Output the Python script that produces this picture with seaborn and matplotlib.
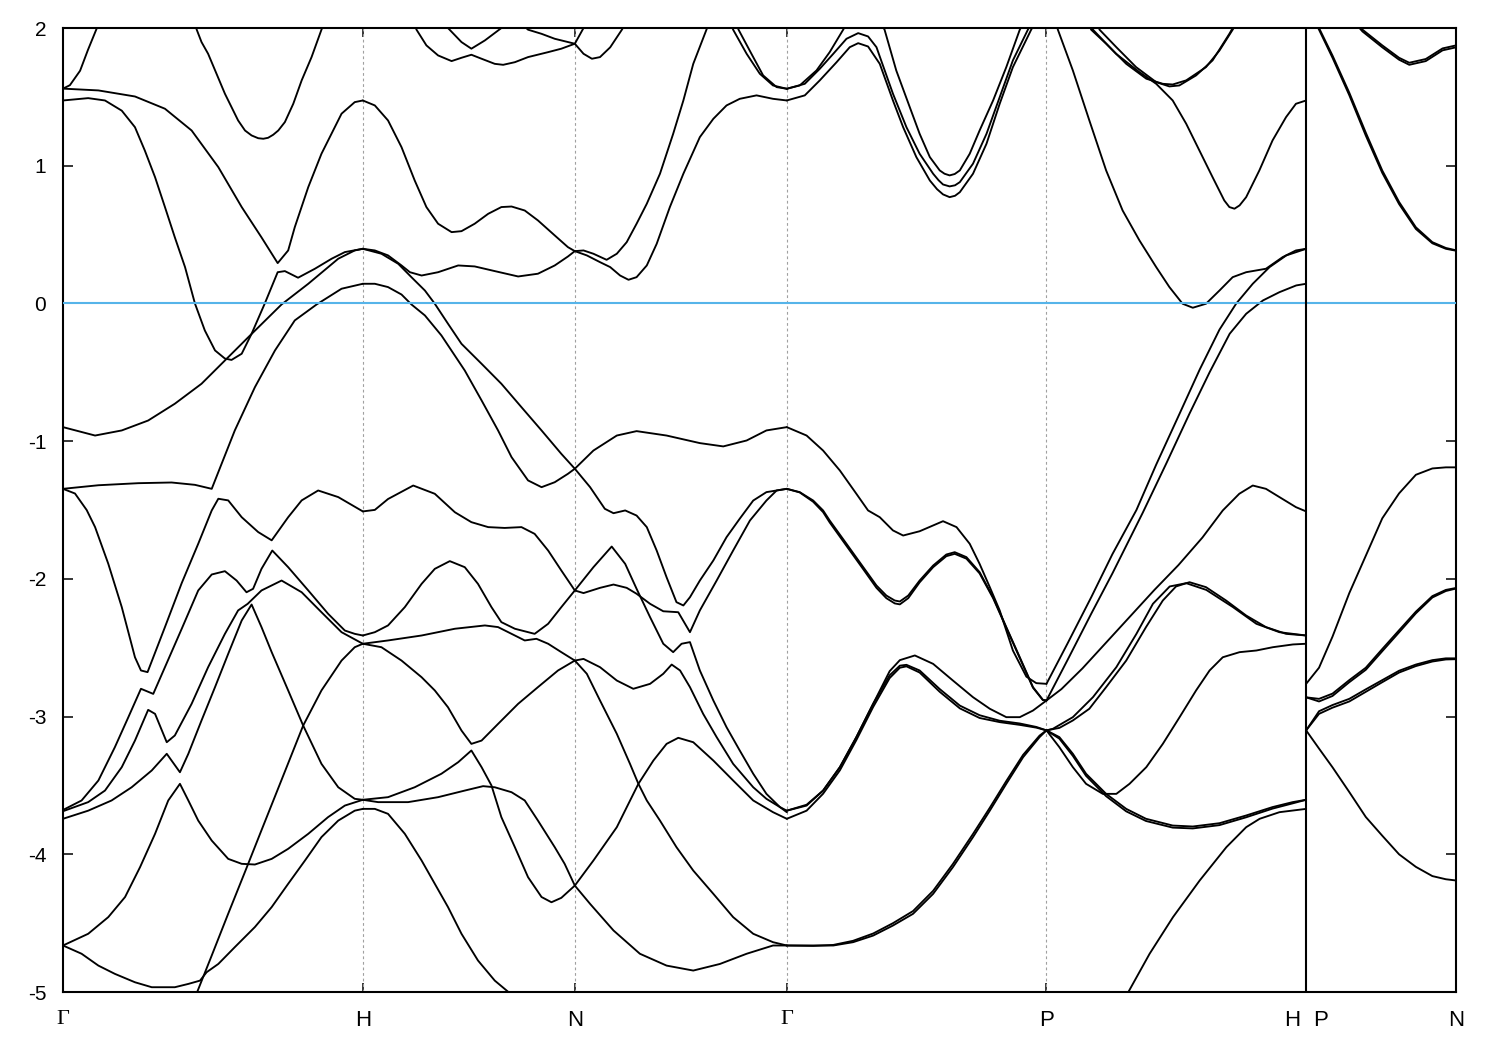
import matplotlib
matplotlib.use("Agg")
import matplotlib.pyplot as plt
import matplotlib.transforms as mtrans
import numpy as np
import pandas as pd
import seaborn as sns

# ---------------- high-symmetry path (units of 2*pi/a) ----------------
kpt_pos = [0.0, 1.0, 1.707, 2.414, 3.280, 4.146, 4.646]
kpt_labels = ["Γ", "H", "N", "Γ", "P", "", "N"]
dashed_at = [1.0, 1.707, 2.414, 3.280]
break_at = 4.146
y_ticks = [-5, -4, -3, -2, -1, 0, 1, 2]

# ---------------- bands, Gamma - H ----------------
gh1_k = [0.0, 0.023, 0.057, 0.083, 0.113, 0.125]
gh1_e = [1.56, 1.585, 1.69, 1.84, 2.0, 2.08]
gh2_k = [0.440, 0.446, 0.462, 0.484, 0.512, 0.540, 0.562, 0.584, 0.607, 0.629, 0.651, 0.668, 0.684, 0.701, 0.718,
         0.740, 0.768, 0.796, 0.829, 0.862, 0.870]
gh2_e = [2.03, 1.988, 1.898, 1.813, 1.668, 1.523, 1.426, 1.329, 1.256, 1.22, 1.20, 1.196, 1.203, 1.225, 1.256,
         1.317, 1.45, 1.62, 1.789, 1.988, 2.03]
gh3_k = [0.0, 0.118, 0.240, 0.340, 0.429, 0.518, 0.596, 0.662, 0.716, 0.751, 0.773, 0.818, 0.862, 0.929, 0.973, 1.0]
gh3_e = [1.56, 1.547, 1.503, 1.414, 1.256, 0.99, 0.70, 0.48, 0.293, 0.385, 0.554, 0.845, 1.087, 1.378, 1.462, 1.474]
gh4_k = [0.0, 0.084, 0.140, 0.196, 0.240, 0.273, 0.307, 0.340, 0.373, 0.407, 0.440, 0.473, 0.507, 0.540, 0.562,
         0.596, 0.629, 0.673, 0.716, 0.740, 0.784, 0.840, 0.896, 0.940, 1.0]
gh4_e = [1.474, 1.491, 1.474, 1.40, 1.28, 1.11, 0.917, 0.70, 0.48, 0.264, 0.0, -0.196, -0.341, -0.40, -0.41,
         -0.365, -0.22, 0.0, 0.227, 0.235, 0.187, 0.252, 0.325, 0.373, 0.397]
gh5_k = [0.0, 0.107, 0.196, 0.284, 0.373, 0.462, 0.540, 0.618, 0.729, 0.818, 0.918, 0.973, 1.0]
gh5_e = [-0.898, -0.959, -0.922, -0.85, -0.728, -0.583, -0.414, -0.245, -0.007, 0.143, 0.325, 0.385, 0.397]
gh6_k = [0.0, 0.118, 0.251, 0.362, 0.440, 0.496, 0.529, 0.573, 0.640, 0.707, 0.773, 0.846, 0.929, 1.0]
gh6_e = [-1.346, -1.32, -1.305, -1.30, -1.317, -1.346, -1.164, -0.922, -0.608, -0.341, -0.123, -0.007, 0.107, 0.143]
gh7_k = [0.0, 0.040, 0.079, 0.107, 0.151, 0.196, 0.240, 0.260, 0.282, 0.340, 0.396, 0.451, 0.496, 0.518, 0.551,
         0.596, 0.651, 0.696, 0.751, 0.796, 0.851, 0.918, 1.0]
gh7_e = [-1.346, -1.38, -1.50, -1.624, -1.89, -2.205, -2.569, -2.665, -2.677, -2.35, -2.03, -1.745, -1.503, -1.418,
         -1.43, -1.552, -1.66, -1.72, -1.552, -1.43, -1.358, -1.406, -1.51]
gh8_k = [0.0, 0.062, 0.118, 0.173, 0.218, 0.260, 0.301, 0.340, 0.396, 0.451, 0.496, 0.540, 0.579, 0.612, 0.634,
         0.662, 0.698, 0.751, 0.818, 0.884, 0.940, 0.973, 1.0]
gh8_e = [-3.678, -3.609, -3.464, -3.222, -3.004, -2.798, -2.835, -2.641, -2.362, -2.084, -1.968, -1.944, -2.012,
         -2.097, -2.072, -1.927, -1.794, -1.915, -2.084, -2.253, -2.375, -2.399, -2.411]
gh9_k = [0.0, 0.084, 0.140, 0.196, 0.240, 0.284, 0.307, 0.346, 0.373, 0.429, 0.484, 0.540, 0.584, 0.616, 0.662,
         0.729, 0.796, 0.862, 0.929, 1.0]
gh9_e = [-3.687, -3.621, -3.537, -3.367, -3.174, -2.951, -2.98, -3.186, -3.137, -2.907, -2.641, -2.399, -2.229,
         -2.181, -2.084, -2.012, -2.097, -2.242, -2.387, -2.471]
gh10_k = [0.0, 0.084, 0.162, 0.229, 0.296, 0.346, 0.390, 0.418, 0.462, 0.507, 0.551, 0.596, 0.629, 0.662, 0.696,
          0.751, 0.801, 0.862, 0.918, 0.973, 1.0]
gh10_e = [-3.742, -3.683, -3.609, -3.513, -3.391, -3.27, -3.404, -3.27, -3.028, -2.786, -2.544, -2.302, -2.186,
          -2.35, -2.532, -2.81, -3.065, -3.343, -3.513, -3.597, -3.604]
gh11_k = [0.0, 0.084, 0.151, 0.207, 0.257, 0.307, 0.351, 0.390, 0.418, 0.451, 0.496, 0.551, 0.596, 0.640, 0.696,
          0.751, 0.818, 0.884, 0.940, 1.0]
gh11_e = [-4.662, -4.577, -4.456, -4.31, -4.093, -3.851, -3.609, -3.488, -3.609, -3.755, -3.9, -4.033, -4.069,
          -4.074, -4.033, -3.96, -3.851, -3.73, -3.646, -3.604]
gh12_k = [0.0, 0.062, 0.118, 0.173, 0.240, 0.296, 0.373, 0.418, 0.457, 0.479, 0.518, 0.573, 0.640, 0.696, 0.751,
          0.807, 0.862, 0.918, 0.973, 1.0]
gh12_e = [-4.662, -4.722, -4.808, -4.868, -4.929, -4.965, -4.965, -4.941, -4.917, -4.856, -4.796, -4.674, -4.528,
          -4.383, -4.214, -4.045, -3.875, -3.755, -3.683, -3.67]
gh13_k = [0.440, 0.446, 0.496, 0.551, 0.607, 0.662, 0.729, 0.801, 0.862, 0.929, 0.973, 1.0]
gh13_e = [-5.04, -5.008, -4.735, -4.431, -4.127, -3.825, -3.459, -3.065, -2.81, -2.593, -2.496, -2.471]

# ---------------- bands, H - N ----------------
hn1_k = [1.170, 1.179, 1.212, 1.251, 1.296, 1.329, 1.362, 1.396, 1.440, 1.468, 1.507, 1.551, 1.618, 1.662, 1.707,
         1.736, 1.742]
hn1_e = [2.04, 1.988, 1.874, 1.801, 1.76, 1.784, 1.806, 1.777, 1.74, 1.733, 1.752, 1.789, 1.825, 1.85, 1.886, 2.0, 2.03]
hn2_k = [1.275, 1.284, 1.329, 1.362, 1.407, 1.462, 1.470]
hn2_e = [2.04, 2.0, 1.898, 1.85, 1.91, 2.0, 2.03]
hn3_k = [1.530, 1.551, 1.596, 1.640, 1.707, 1.736, 1.764, 1.791, 1.825, 1.864, 1.875]
hn3_e = [2.03, 1.988, 1.958, 1.922, 1.886, 1.813, 1.777, 1.789, 1.86, 1.988, 2.03]
hn4_k = [1.0, 1.040, 1.084, 1.129, 1.173, 1.212, 1.251, 1.296, 1.329, 1.373, 1.418, 1.462, 1.496, 1.540, 1.584,
         1.640, 1.684, 1.707]
hn4_e = [1.474, 1.438, 1.329, 1.135, 0.893, 0.70, 0.579, 0.518, 0.525, 0.579, 0.651, 0.70, 0.704, 0.675, 0.603,
         0.494, 0.409, 0.38]
hn5_k = [1.0, 1.040, 1.084, 1.129, 1.157, 1.196, 1.251, 1.318, 1.373, 1.440, 1.518, 1.584, 1.640, 1.684, 1.707]
hn5_e = [0.397, 0.385, 0.349, 0.276, 0.227, 0.203, 0.227, 0.276, 0.269, 0.235, 0.196, 0.216, 0.276, 0.341, 0.38]
hn6_k = [1.0, 1.062, 1.118, 1.162, 1.207, 1.240, 1.284, 1.329, 1.396, 1.462, 1.529, 1.596, 1.662, 1.707]
hn6_e = [0.397, 0.361, 0.288, 0.191, 0.094, -0.002, -0.147, -0.293, -0.438, -0.583, -0.753, -0.922, -1.092, -1.20]
hn7_k = [1.0, 1.040, 1.084, 1.129, 1.162, 1.207, 1.262, 1.340, 1.396, 1.451, 1.496, 1.551, 1.596, 1.640, 1.684, 1.707]
hn7_e = [0.143, 0.143, 0.119, 0.065, -0.007, -0.087, -0.232, -0.487, -0.704, -0.922, -1.116, -1.285, -1.334,
         -1.298, -1.237, -1.20]
hn8_k = [1.0, 1.040, 1.084, 1.168, 1.240, 1.307, 1.362, 1.418, 1.473, 1.529, 1.573, 1.618, 1.662, 1.707]
hn8_e = [-1.51, -1.499, -1.42, -1.322, -1.382, -1.516, -1.588, -1.624, -1.63, -1.624, -1.673, -1.794, -1.939, -2.084]
hn9_k = [1.0, 1.040, 1.084, 1.140, 1.196, 1.240, 1.290, 1.340, 1.384, 1.429, 1.462, 1.507, 1.573, 1.618, 1.662, 1.707]
hn9_e = [-2.411, -2.387, -2.338, -2.205, -2.036, -1.927, -1.871, -1.915, -2.036, -2.205, -2.314, -2.362, -2.399,
         -2.326, -2.205, -2.084]
hn10_k = [1.0, 1.084, 1.196, 1.307, 1.407, 1.451, 1.496, 1.540, 1.579, 1.618, 1.662, 1.707]
hn10_e = [-2.471, -2.447, -2.411, -2.362, -2.338, -2.35, -2.399, -2.447, -2.435, -2.471, -2.532, -2.593]
hn11_k = [1.0, 1.062, 1.129, 1.196, 1.240, 1.284, 1.329, 1.362, 1.396, 1.451, 1.518, 1.584, 1.651, 1.707]
hn11_e = [-2.471, -2.496, -2.593, -2.714, -2.81, -2.932, -3.101, -3.198, -3.174, -3.053, -2.907, -2.786, -2.665, -2.593]
hn12_k = [1.0, 1.040, 1.084, 1.140, 1.196, 1.240, 1.284, 1.329, 1.384, 1.440, 1.490, 1.500]
hn12_e = [-3.67, -3.67, -3.706, -3.851, -4.045, -4.214, -4.383, -4.577, -4.771, -4.917, -5.008, -5.04]
hn13_k = [1.0, 1.084, 1.173, 1.262, 1.318, 1.362, 1.396, 1.429, 1.462, 1.507, 1.551, 1.596, 1.629, 1.662, 1.707]
hn13_e = [-3.604, -3.585, -3.513, -3.415, -3.331, -3.246, -3.367, -3.50, -3.73, -3.948, -4.166, -4.31, -4.348,
          -4.316, -4.227]
hn14_k = [1.0, 1.051, 1.151, 1.251, 1.340, 1.401, 1.440, 1.496, 1.540, 1.584, 1.640, 1.673, 1.707]
hn14_e = [-3.604, -3.621, -3.621, -3.585, -3.537, -3.505, -3.513, -3.549, -3.609, -3.755, -3.948, -4.069, -4.227]

# ---------------- bands, N - Gamma ----------------
ng1_k = [1.707, 1.736, 1.769, 1.813, 1.847, 1.880, 1.913, 1.947, 1.991, 2.035, 2.069, 2.102, 2.146, 2.155]
ng1_e = [0.38, 0.385, 0.361, 0.317, 0.361, 0.445, 0.579, 0.724, 0.942, 1.232, 1.474, 1.74, 1.988, 2.04]
ng2_k = [1.707, 1.747, 1.791, 1.825, 1.858, 1.886, 1.913, 1.947, 1.980, 2.024, 2.069, 2.124, 2.169, 2.213, 2.257,
         2.313, 2.368, 2.414]
ng2_e = [0.38, 0.349, 0.30, 0.264, 0.203, 0.172, 0.191, 0.276, 0.433, 0.70, 0.942, 1.208, 1.341, 1.438, 1.486,
         1.511, 1.486, 1.474]
ng3_k = [2.225, 2.235, 2.280, 2.324, 2.368, 2.414]
ng3_e = [2.05, 1.988, 1.813, 1.668, 1.583, 1.559]
ng4_k = [2.243, 2.253, 2.296, 2.335, 2.380, 2.414]
ng4_e = [2.05, 1.988, 1.813, 1.656, 1.571, 1.559]
ng5_k = [1.707, 1.758, 1.807, 1.836, 1.875, 1.913, 1.947, 1.980, 2.013, 2.046, 2.069, 2.091, 2.124, 2.169, 2.213,
         2.257, 2.302, 2.346, 2.414]
ng5_e = [-1.20, -1.334, -1.491, -1.523, -1.503, -1.54, -1.624, -1.794, -1.988, -2.169, -2.193, -2.133, -2.012,
         -1.866, -1.697, -1.563, -1.431, -1.37, -1.346]
ng6_k = [1.707, 1.769, 1.847, 1.913, 2.013, 2.124, 2.202, 2.280, 2.346, 2.414]
ng6_e = [-1.20, -1.068, -0.959, -0.927, -0.959, -1.014, -1.038, -0.995, -0.922, -0.898]
ng7_k = [1.707, 1.769, 1.830, 1.875, 1.913, 1.958, 2.002, 2.035, 2.063, 2.091, 2.124, 2.169, 2.213, 2.257, 2.302,
         2.346, 2.391, 2.414]
ng7_e = [-2.084, -1.915, -1.765, -1.891, -2.072, -2.278, -2.471, -2.532, -2.471, -2.459, -2.665, -2.883, -3.077,
         -3.246, -3.415, -3.561, -3.657, -3.683]
ng8_k = [1.707, 1.736, 1.791, 1.836, 1.880, 1.913, 1.958, 2.002, 2.052, 2.091, 2.124, 2.180, 2.235, 2.291, 2.346,
         2.380, 2.414]
ng8_e = [-2.084, -2.103, -2.065, -2.041, -2.065, -2.108, -2.181, -2.235, -2.242, -2.387, -2.229, -2.012, -1.794,
         -1.576, -1.431, -1.358, -1.346]
ng9_k = [1.707, 1.736, 1.791, 1.847, 1.902, 1.958, 2.002, 2.030, 2.058, 2.091, 2.135, 2.180, 2.235, 2.302, 2.346,
         2.391, 2.414]
ng9_e = [-2.593, -2.581, -2.641, -2.738, -2.798, -2.762, -2.689, -2.622, -2.665, -2.786, -2.98, -3.149, -3.343,
         -3.513, -3.597, -3.657, -3.694]
ng10_k = [1.707, 1.747, 1.791, 1.847, 1.891, 1.919, 1.947, 1.991, 2.046, 2.102, 2.169, 2.235, 2.302, 2.368, 2.414]
ng10_e = [-2.593, -2.689, -2.883, -3.125, -3.343, -3.488, -3.609, -3.755, -3.948, -4.118, -4.287, -4.456, -4.577,
          -4.638, -4.662]
ng11_k = [1.707, 1.769, 1.847, 1.919, 1.969, 2.013, 2.052, 2.102, 2.169, 2.235, 2.302, 2.368, 2.414]
ng11_e = [-4.227, -4.045, -3.803, -3.488, -3.319, -3.198, -3.154, -3.186, -3.319, -3.464, -3.609, -3.694, -3.742]
ng12_k = [1.707, 1.758, 1.836, 1.924, 2.013, 2.102, 2.191, 2.280, 2.368, 2.414]
ng12_e = [-4.227, -4.36, -4.553, -4.722, -4.808, -4.844, -4.796, -4.722, -4.662, -4.662]

# ---------------- bands, Gamma - P ----------------
gp1_k = [2.414, 2.457, 2.513, 2.557, 2.602, 2.613]
gp1_e = [1.559, 1.583, 1.692, 1.825, 1.988, 2.03]
gp2_k = [2.414, 2.474, 2.524, 2.569, 2.613, 2.652, 2.685, 2.713, 2.768, 2.813, 2.857, 2.902, 2.920, 2.935, 2.957,
         2.975, 2.991, 3.035, 3.080, 3.124, 3.168, 3.218, 3.229]
gp2_e = [1.559, 1.595, 1.704, 1.813, 1.922, 1.963, 1.939, 1.861, 1.523, 1.28, 1.087, 0.942, 0.895, 0.864, 0.85,
         0.858, 0.881, 1.015, 1.232, 1.498, 1.765, 1.988, 2.03]
gp3_k = [2.414, 2.474, 2.524, 2.580, 2.624, 2.652, 2.685, 2.724, 2.768, 2.802, 2.846, 2.891, 2.915, 2.935, 2.957,
         2.975, 2.991, 3.035, 3.080, 3.124, 3.168, 3.229, 3.240]
gp3_e = [1.474, 1.511, 1.62, 1.752, 1.861, 1.89, 1.866, 1.74, 1.474, 1.28, 1.063, 0.893, 0.83, 0.792, 0.772,
         0.782, 0.808, 0.942, 1.16, 1.45, 1.716, 1.988, 2.03]
gp4_k = [2.729, 2.740, 2.779, 2.824, 2.857, 2.891, 2.924, 2.940, 2.957, 2.974, 2.991, 3.024, 3.057, 3.102, 3.146,
         3.191, 3.202]
gp4_e = [2.03, 1.988, 1.692, 1.426, 1.232, 1.063, 0.966, 0.942, 0.93, 0.94, 0.966, 1.087, 1.256, 1.474, 1.716,
         1.988, 2.03]
gp5_k = [2.414, 2.480, 2.535, 2.591, 2.646, 2.685, 2.724, 2.768, 2.802, 2.857, 2.935, 2.980, 3.024, 3.057, 3.091,
         3.124, 3.168, 3.213, 3.246, 3.280]
gp5_e = [-0.898, -0.959, -1.068, -1.213, -1.382, -1.503, -1.552, -1.648, -1.685, -1.654, -1.581, -1.624, -1.745,
         -1.891, -2.06, -2.229, -2.52, -2.71, -2.757, -2.762]
gp6_k = [2.414, 2.457, 2.502, 2.535, 2.557, 2.613, 2.669, 2.713, 2.746, 2.774, 2.791, 2.819, 2.857, 2.902, 2.946,
         2.974, 3.013, 3.057, 3.102, 3.146, 3.191, 3.235, 3.268, 3.280]
gp6_e = [-1.346, -1.37, -1.431, -1.503, -1.576, -1.745, -1.915, -2.048, -2.121, -2.157, -2.164, -2.121, -2.012,
         -1.903, -1.823, -1.806, -1.842, -1.951, -2.133, -2.35, -2.569, -2.786, -2.878, -2.883]
gp7_e = [-1.346, -1.372, -1.44, -1.515, -1.59, -1.76, -1.93, -2.065, -2.14, -2.178, -2.185, -2.14, -2.025,
         -1.915, -1.835, -1.818, -1.853, -1.96, -2.14, -2.355, -2.575, -2.79, -2.88, -2.883]
gp8_k = [2.414, 2.480, 2.535, 2.591, 2.646, 2.702, 2.757, 2.791, 2.841, 2.902, 2.968, 3.035, 3.091, 3.146, 3.191,
         3.235, 3.280]
gp8_e = [-3.683, -3.64, -3.537, -3.367, -3.149, -2.907, -2.67, -2.59, -2.556, -2.617, -2.738, -2.859, -2.943,
         -3.004, -3.004, -2.956, -2.883]
gp9_k = [2.414, 2.480, 2.535, 2.591, 2.646, 2.702, 2.757, 2.791, 2.813, 2.857, 2.924, 2.991, 3.057, 3.124, 3.191,
         3.246, 3.280]
gp9_e = [-3.683, -3.646, -3.537, -3.367, -3.149, -2.907, -2.70, -2.63, -2.624, -2.665, -2.80, -2.92, -2.99, -3.03,
         -3.05, -3.075, -3.10]
gp10_e = [-3.742, -3.683, -3.56, -3.39, -3.17, -2.93, -2.72, -2.645, -2.635, -2.68, -2.82, -2.94, -3.01, -3.04,
          -3.06, -3.08, -3.10]
gp11_k = [2.414, 2.502, 2.569, 2.635, 2.702, 2.768, 2.835, 2.902, 2.968, 3.035, 3.091, 3.146, 3.202, 3.257, 3.280]
gp11_e = [-4.662, -4.662, -4.662, -4.638, -4.59, -4.517, -4.432, -4.287, -4.093, -3.875, -3.683, -3.488, -3.295,
          -3.149, -3.10]
gp12_e = [-4.662, -4.665, -4.658, -4.628, -4.575, -4.50, -4.412, -4.265, -4.07, -3.852, -3.662, -3.468, -3.278,
          -3.138, -3.10]

# ---------------- bands, P - H ----------------
ph1_k = [3.305, 3.318, 3.368, 3.423, 3.479, 3.534, 3.590, 3.646, 3.690, 3.734, 3.768, 3.812, 3.857, 3.901, 3.946,
         4.012, 4.068, 4.112, 4.146]
ph1_e = [2.10, 1.988, 1.692, 1.329, 0.966, 0.675, 0.458, 0.264, 0.119, -0.002, -0.031, -0.002, 0.094, 0.191, 0.227,
         0.252, 0.337, 0.385, 0.397]
ph2_k = [3.423, 3.429, 3.479, 3.546, 3.613, 3.668, 3.701, 3.746, 3.812, 3.857, 3.901, 3.912]
ph2_e = [2.03, 1.988, 1.886, 1.74, 1.632, 1.595, 1.59, 1.62, 1.716, 1.837, 1.988, 2.03]
ph3_k = [3.451, 3.457, 3.513, 3.579, 3.646, 3.690, 3.723, 3.779, 3.834, 3.890, 3.901]
ph3_e = [2.03, 1.988, 1.861, 1.716, 1.607, 1.576, 1.583, 1.656, 1.765, 1.958, 2.0]
ph4_k = [3.429, 3.435, 3.512, 3.590, 3.646, 3.701, 3.746, 3.790, 3.834, 3.873, 3.890, 3.907, 3.924, 3.946, 3.990,
         4.034, 4.079, 4.112, 4.146]
ph4_e = [2.03, 1.988, 1.813, 1.68, 1.595, 1.474, 1.305, 1.111, 0.917, 0.748, 0.70, 0.688, 0.712, 0.772, 0.966,
         1.184, 1.353, 1.45, 1.474]
ph5_k = [3.280, 3.350, 3.430, 3.500, 3.580, 3.646, 3.724, 3.791, 3.857, 3.913, 3.968, 4.024, 4.080, 4.146]
ph5_e = [-2.762, -2.47, -2.13, -1.82, -1.50, -1.17, -0.80, -0.48, -0.19, 0.0, 0.143, 0.264, 0.349, 0.397]
ph6_k = [3.280, 3.350, 3.430, 3.500, 3.601, 3.680, 3.757, 3.824, 3.891, 3.946, 4.002, 4.057, 4.113, 4.146]
ph6_e = [-2.883, -2.59, -2.25, -1.96, -1.52, -1.16, -0.80, -0.50, -0.22, -0.075, 0.022, 0.082, 0.131, 0.143]
ph7_k = [3.280, 3.330, 3.400, 3.480, 3.560, 3.640, 3.720, 3.800, 3.868, 3.923, 3.968, 4.012, 4.057, 4.112, 4.146]
ph7_e = [-2.883, -2.80, -2.65, -2.46, -2.27, -2.08, -1.90, -1.70, -1.503, -1.382, -1.322, -1.346, -1.406, -1.479, -1.51]
ph8_k = [3.280, 3.323, 3.368, 3.412, 3.468, 3.513, 3.557, 3.613, 3.668, 3.724, 3.779, 3.824, 3.868, 3.924, 3.980,
         4.035, 4.102, 4.146]
ph8_e = [-3.10, -3.222, -3.367, -3.488, -3.561, -3.561, -3.488, -3.367, -3.198, -3.004, -2.81, -2.665, -2.569,
         -2.532, -2.52, -2.496, -2.476, -2.471]
ph9_k = [3.280, 3.323, 3.368, 3.412, 3.479, 3.546, 3.612, 3.701, 3.768, 3.857, 3.946, 4.034, 4.101, 4.146]
ph9_e = [-3.10, -3.149, -3.27, -3.415, -3.561, -3.67, -3.742, -3.791, -3.798, -3.774, -3.718, -3.657, -3.621, -3.604]
ph10_e = [-3.10, -3.16, -3.285, -3.43, -3.578, -3.688, -3.758, -3.806, -3.812, -3.788, -3.731, -3.668, -3.63, -3.604]
ph11_k = [3.280, 3.323, 3.368, 3.423, 3.479, 3.546, 3.612, 3.668, 3.712, 3.757, 3.812, 3.879, 3.946, 4.012, 4.079,
          4.146]
ph11_e = [-3.10, -3.082, -3.028, -2.943, -2.786, -2.593, -2.35, -2.157, -2.055, -2.024, -2.06, -2.157, -2.266,
          -2.35, -2.399, -2.411]
ph12_k = [3.280, 3.301, 3.368, 3.435, 3.513, 3.580, 3.635, 3.691, 3.746, 3.813, 3.902, 3.980, 4.057, 4.146]
ph12_e = [-3.10, -3.089, -3.004, -2.859, -2.641, -2.399, -2.181, -2.055, -2.031, -2.08, -2.205, -2.326, -2.387, -2.411]
ph13_k = [3.545, 3.551, 3.624, 3.702, 3.791, 3.880, 3.946, 3.991, 4.057, 4.146]
ph13_e = [-5.04, -5.008, -4.722, -4.456, -4.19, -3.948, -3.803, -3.742, -3.694, -3.67]

# ---------------- bands, P - N ----------------
pn_k = [4.146, 4.189, 4.234, 4.290, 4.345, 4.400, 4.456, 4.512, 4.567, 4.612, 4.646]
pn1_k = [4.312, 4.334, 4.400, 4.456, 4.490, 4.545, 4.601, 4.646]
pn1a_e = [2.04, 1.988, 1.874, 1.784, 1.748, 1.775, 1.852, 1.874]
pn1b_e = [2.03, 1.975, 1.86, 1.77, 1.733, 1.76, 1.838, 1.86]
pn2_k = [4.175, 4.189, 4.234, 4.290, 4.345, 4.400, 4.456, 4.512, 4.567, 4.612, 4.646]
pn2a_e = [2.05, 1.988, 1.784, 1.512, 1.219, 0.948, 0.722, 0.541, 0.437, 0.397, 0.383]
pn2b_e = [2.07, 2.0, 1.80, 1.53, 1.24, 0.965, 0.737, 0.553, 0.445, 0.403, 0.386]
pn3_e = [-2.762, -2.645, -2.419, -2.103, -1.832, -1.56, -1.379, -1.244, -1.198, -1.19, -1.19]
pn4a_e = [-2.86, -2.871, -2.833, -2.735, -2.645, -2.509, -2.373, -2.238, -2.125, -2.08, -2.066]
pn4b_e = [-2.86, -2.89, -2.85, -2.75, -2.66, -2.525, -2.388, -2.25, -2.135, -2.088, -2.07]
pn5a_e = [-3.10, -2.961, -2.916, -2.871, -2.802, -2.735, -2.667, -2.622, -2.59, -2.577, -2.577]
pn5b_e = [-3.10, -2.98, -2.935, -2.89, -2.82, -2.75, -2.68, -2.633, -2.60, -2.585, -2.583]
pn6_e = [-3.10, -3.232, -3.368, -3.548, -3.729, -3.865, -4.0, -4.091, -4.158, -4.181, -4.19]

curves = {
    "gh1": (gh1_k, gh1_e), "gh2": (gh2_k, gh2_e), "gh3": (gh3_k, gh3_e), "gh4": (gh4_k, gh4_e),
    "gh5": (gh5_k, gh5_e), "gh6": (gh6_k, gh6_e), "gh7": (gh7_k, gh7_e), "gh8": (gh8_k, gh8_e),
    "gh9": (gh9_k, gh9_e), "gh10": (gh10_k, gh10_e), "gh11": (gh11_k, gh11_e), "gh12": (gh12_k, gh12_e),
    "gh13": (gh13_k, gh13_e),
    "hn1": (hn1_k, hn1_e), "hn2": (hn2_k, hn2_e), "hn3": (hn3_k, hn3_e), "hn4": (hn4_k, hn4_e),
    "hn5": (hn5_k, hn5_e), "hn6": (hn6_k, hn6_e), "hn7": (hn7_k, hn7_e), "hn8": (hn8_k, hn8_e),
    "hn9": (hn9_k, hn9_e), "hn10": (hn10_k, hn10_e), "hn11": (hn11_k, hn11_e), "hn12": (hn12_k, hn12_e),
    "hn13": (hn13_k, hn13_e), "hn14": (hn14_k, hn14_e),
    "ng1": (ng1_k, ng1_e), "ng2": (ng2_k, ng2_e), "ng3": (ng3_k, ng3_e), "ng4": (ng4_k, ng4_e),
    "ng5": (ng5_k, ng5_e), "ng6": (ng6_k, ng6_e), "ng7": (ng7_k, ng7_e), "ng8": (ng8_k, ng8_e),
    "ng9": (ng9_k, ng9_e), "ng10": (ng10_k, ng10_e), "ng11": (ng11_k, ng11_e), "ng12": (ng12_k, ng12_e),
    "gp1": (gp1_k, gp1_e), "gp2": (gp2_k, gp2_e), "gp3": (gp3_k, gp3_e), "gp4": (gp4_k, gp4_e),
    "gp5": (gp5_k, gp5_e), "gp6": (gp6_k, gp6_e), "gp7": (gp6_k, gp7_e), "gp8": (gp8_k, gp8_e),
    "gp9": (gp9_k, gp9_e), "gp10": (gp9_k, gp10_e), "gp11": (gp11_k, gp11_e), "gp12": (gp11_k, gp12_e),
    "ph1": (ph1_k, ph1_e), "ph2": (ph2_k, ph2_e), "ph3": (ph3_k, ph3_e), "ph4": (ph4_k, ph4_e),
    "ph5": (ph5_k, ph5_e), "ph6": (ph6_k, ph6_e), "ph7": (ph7_k, ph7_e), "ph8": (ph8_k, ph8_e),
    "ph9": (ph9_k, ph9_e), "ph10": (ph9_k, ph10_e), "ph11": (ph11_k, ph11_e), "ph12": (ph12_k, ph12_e),
    "ph13": (ph13_k, ph13_e),
    "pn1a": (pn1_k, pn1a_e), "pn1b": (pn1_k, pn1b_e), "pn2a": (pn2_k, pn2a_e), "pn2b": (pn2_k, pn2b_e),
    "pn3": (pn_k, pn3_e), "pn4a": (pn_k, pn4a_e), "pn4b": (pn_k, pn4b_e), "pn5a": (pn_k, pn5a_e),
    "pn5b": (pn_k, pn5b_e), "pn6": (pn_k, pn6_e),
}

bad = [n for n, (a, b) in curves.items() if len(a) != len(b)]
rows = []
for name, (ks, es) in curves.items():
    for kk, ee in zip(ks, es):
        rows.append((name, kk, ee))
df = pd.DataFrame(rows, columns=["line", "k", "E"])

# ---------------- drawing ----------------
sns.set_theme(style="white")
plt.rcParams["font.family"] = ["Liberation Sans", "DejaVu Sans"]
plt.rcParams["axes.unicode_minus"] = False

fig = plt.figure(figsize=(15, 10.5), dpi=100)
ax = fig.add_axes([0.042, 0.0552, 0.9287, 0.9181])

for xv in dashed_at:
    ax.axvline(xv, color="#a0a0a0", lw=0.8, ls=(0, (2.5, 2.5)), zorder=1)
ax.axvline(break_at, color="black", lw=1.5, zorder=4)

sns.lineplot(data=df, x="k", y="E", units="line", estimator=None, sort=False,
             color="black", linewidth=1.35, ax=ax, legend=False, zorder=2)
ax.axhline(0.0, color="#56b4e9", lw=1.5, zorder=3)

ax.set_xlim(kpt_pos[0], kpt_pos[-1])
ax.set_ylim(-5, 2)
ax.set_xlabel("")
ax.set_ylabel("")
ax.set_yticks(y_ticks)
ax.set_yticklabels([str(v) for v in y_ticks])
ax.set_xticks(kpt_pos)
ax.set_xticklabels(kpt_labels)
for lab in ax.get_xticklabels():
    if lab.get_text() == "Γ":
        lab.set_fontfamily(["Liberation Serif", "DejaVu Serif"])

ax.tick_params(axis="y", direction="in", length=7, width=1.1, left=True, right=True,
               labelsize=15, pad=12, colors="black")
ax.tick_params(axis="x", direction="in", length=6.5, width=1.1, top=True, bottom=True,
               labelsize=16, pad=13, colors="black")
for sp in ax.spines.values():
    sp.set_color("black")
    sp.set_linewidth(1.5)

trans = mtrans.blended_transform_factory(ax.transData, ax.transAxes)
ax.text(4.100, -0.0295, "H", transform=trans, ha="center", va="center", fontsize=16, color="black")
ax.text(4.193, -0.0295, "P", transform=trans, ha="center", va="center", fontsize=16, color="black")

if bad:
    fig.text(0.5, 0.5, "LEN MISMATCH: " + ",".join(bad), color="red", fontsize=20, ha="center")

fig.savefig("out.png", dpi=100)
